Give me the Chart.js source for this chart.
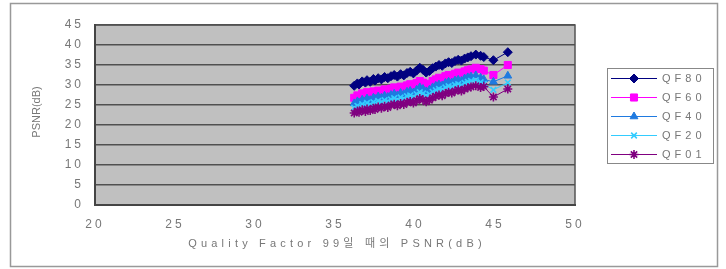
<!DOCTYPE html>
<html>
<head>
<meta charset="utf-8">
<script src="https://cdn.jsdelivr.net/npm/chart.js@4/dist/chart.umd.min.js"></script>
<style>
  body { margin: 0; background: #fff; }
  canvas { display: block; }
</style>
</head>
<body>
<canvas id="chart" width="726" height="269"></canvas>
<script>
var FONT = "'Liberation Sans', Arial, 'Noto Sans CJK KR', sans-serif";

// PSNR at quality factor 99 (x axis)
var qf99 = [36.2, 36.4, 36.5, 36.7, 36.9, 37.0, 37.2, 37.4, 37.5, 37.7, 37.9,
    38.1, 38.3, 38.5, 38.7, 38.9, 39.1, 39.3, 39.5, 39.7, 39.9, 40.1, 40.3,
    40.5, 40.7, 40.9, 41.1, 41.3, 41.5, 41.7, 41.9, 42.1, 42.3, 42.5, 42.7,
    42.9, 43.1, 43.3, 43.5, 43.8, 44.1, 44.3, 44.9, 45.8];

var qf80 = [29.8, 30.4, 30.1, 30.9, 30.6, 31.2, 30.8, 31.5, 31.1, 31.7, 31.4,
    32.0, 31.7, 32.2, 32.5, 32.1, 32.7, 32.4, 33.0, 33.3, 32.9, 33.6, 34.3,
    33.8, 33.1, 33.5, 34.2, 34.6, 35.0, 34.8, 35.4, 35.7, 35.5, 36.0, 36.3,
    36.1, 36.6, 36.9, 37.2, 37.6, 37.3, 37.0, 36.2, 38.2];

var qf60 = [26.8, 27.4, 27.1, 27.9, 27.6, 28.2, 27.8, 28.4, 28.0, 28.6, 28.3,
    28.9, 28.6, 29.1, 29.4, 29.0, 29.6, 29.3, 29.9, 30.2, 29.8, 30.5, 31.0,
    30.6, 29.9, 30.3, 31.0, 31.4, 31.8, 31.6, 32.2, 32.5, 32.3, 32.8, 33.1,
    32.9, 33.4, 33.7, 33.9, 34.3, 34.0, 33.6, 32.5, 35.0];

var qf40 = [25.4, 25.9, 25.6, 26.3, 26.0, 26.6, 26.2, 26.8, 26.5, 27.1, 26.8,
    27.3, 27.0, 27.5, 27.8, 27.4, 28.0, 27.7, 28.3, 28.5, 28.1, 28.8, 29.4,
    29.0, 28.4, 28.8, 29.4, 29.8, 30.1, 29.9, 30.5, 30.8, 30.6, 31.1, 31.3,
    31.0, 31.6, 31.9, 32.1, 32.4, 31.8, 31.4, 30.8, 32.3];

var qf20 = [24.3, 24.8, 24.5, 25.2, 24.9, 25.5, 25.1, 25.7, 25.4, 26.0, 25.7,
    26.2, 25.9, 26.4, 26.7, 26.3, 26.9, 26.6, 27.2, 27.4, 27.0, 27.7, 28.2,
    27.9, 27.3, 27.7, 28.3, 28.7, 29.0, 28.8, 29.4, 29.7, 29.5, 30.0, 30.2,
    29.9, 30.5, 30.8, 31.0, 31.2, 30.7, 30.3, 28.8, 30.6];

var qf01 = [23.0, 23.5, 23.2, 23.8, 23.4, 24.0, 23.6, 24.2, 23.9, 24.5, 24.2,
    24.7, 24.4, 25.0, 25.2, 24.8, 25.4, 25.1, 25.7, 25.9, 25.5, 26.1, 26.6,
    26.3, 25.8, 26.2, 26.8, 27.2, 27.5, 27.3, 27.9, 28.2, 28.0, 28.5, 28.8,
    28.5, 29.0, 29.3, 29.5, 29.8, 29.4, 29.6, 27.0, 29.0];

var seriesNames = ['QF80', 'QF60', 'QF40', 'QF20', 'QF01'];
var seriesValues = [qf80, qf60, qf40, qf20, qf01];
var colours = ['#000080', '#ff00ff', '#1f7ae0', '#33ccff', '#800080'];
var markers = ['rectRot', 'rect', 'triangle', 'crossRot', 'star'];
var markerSizes = [4.5, 5, 4.5, 4, 4.5];

var xTitle = 'Quality Factor 99일 때의 PSNR(dB)';
var yTitle = 'PSNR(dB)';

function makeDatasets() {
    return seriesNames.map(function (name, i) {
        return {
            label: name,
            data: qf99.map(function (x, j) { return { x: x, y: seriesValues[i][j] }; }),
            showLine: true,
            borderColor: colours[i],
            backgroundColor: colours[i],
            borderWidth: 1,
            pointStyle: markers[i],
            pointRadius: markerSizes[i],
            pointBorderWidth: (markers[i] === 'crossRot' || markers[i] === 'star') ? 1.6 : 1,
            pointBorderColor: colours[i],
            pointBackgroundColor: colours[i],
            order: 5 - i
        };
    });
}

// background, plot fill, titles and the boxed legend
var frame = {
    id: 'frame',
    beforeDraw: function (chart) {
        var c = chart.ctx, a = chart.chartArea;
        c.save();
        c.fillStyle = '#fff';
        c.fillRect(0, 0, chart.width, chart.height);
        c.strokeStyle = '#999';
        c.lineWidth = 1.5;
        c.strokeRect(10.5, 3.5, 707, 263);
        c.fillStyle = '#c0c0c0';
        c.fillRect(a.left, a.top, a.right - a.left, a.bottom - a.top);
        c.strokeStyle = '#555';
        c.lineWidth = 1.5;
        c.strokeRect(a.left, a.top, a.right - a.left, a.bottom - a.top);
        c.restore();
        c.letterSpacing = '3px';
    },
    afterDraw: function (chart) {
        var c = chart.ctx, a = chart.chartArea;
        c.save();
        c.fillStyle = '#777';
        c.textBaseline = 'middle';

        // x title
        c.letterSpacing = '4.2px';
        c.font = '11px ' + FONT;
        c.textAlign = 'center';
        c.fillText(xTitle, (a.left + a.right) / 2 + 2, 244);

        // y title
        c.letterSpacing = '0px';
        c.save();
        c.translate(37, (a.top + a.bottom) / 2 - 3);
        c.rotate(-Math.PI / 2);
        c.fillText(yTitle, 0, 0);
        c.restore();

        // legend
        c.fillStyle = '#fff';
        c.fillRect(607.5, 68.5, 106, 95);
        c.strokeStyle = '#888';
        c.lineWidth = 1;
        c.strokeRect(607.5, 68.5, 106, 95);
        c.letterSpacing = '4px';
        c.textAlign = 'left';
        seriesNames.forEach(function (name, i) {
            var y = 78 + i * 19;
            c.strokeStyle = colours[i];
            c.fillStyle = colours[i];
            c.lineWidth = 1;
            c.beginPath();
            c.moveTo(611, y + 0.5);
            c.lineTo(657, y + 0.5);
            c.stroke();
            c.lineWidth = (markers[i] === 'crossRot' || markers[i] === 'star') ? 1.6 : 1;
            Chart.helpers.drawPoint(c, {
                pointStyle: markers[i],
                radius: markerSizes[i],
                rotation: 0,
                borderWidth: c.lineWidth
            }, 634, y + 0.5);
            c.fillStyle = '#777';
            c.fillText(name, 662, y + 1);
        });
        c.restore();
    }
};

var ctx = document.getElementById('chart').getContext('2d');

var chart = new Chart(ctx, {
    type: 'scatter',
    data: { datasets: makeDatasets() },
    plugins: [frame],
    options: {
        responsive: false,
        animation: false,
        layout: { padding: { left: 10, right: 151, top: 25, bottom: 0 } },
        plugins: {
            legend: { display: false },
            tooltip: { enabled: false }
        },
        elements: { line: { tension: 0 } },
        scales: {
            x: {
                type: 'linear',
                min: 20,
                max: 50,
                afterFit: function (s) { s.height = 64; },
                ticks: {
                    stepSize: 5,
                    color: '#777',
                    padding: 4,
                    font: { family: FONT, size: 12 }
                },
                grid: { display: false },
                border: { display: true, color: '#444', width: 2 }
            },
            y: {
                min: 0,
                max: 45,
                afterFit: function (s) { s.width = 85; },
                ticks: {
                    stepSize: 5,
                    color: '#777',
                    padding: 11,
                    font: { family: FONT, size: 12 }
                },
                grid: { color: '#505050', lineWidth: 1.5, drawTicks: false },
                border: { display: true, color: '#444', width: 2 }
            }
        }
    }
});
</script>
</body>
</html>
